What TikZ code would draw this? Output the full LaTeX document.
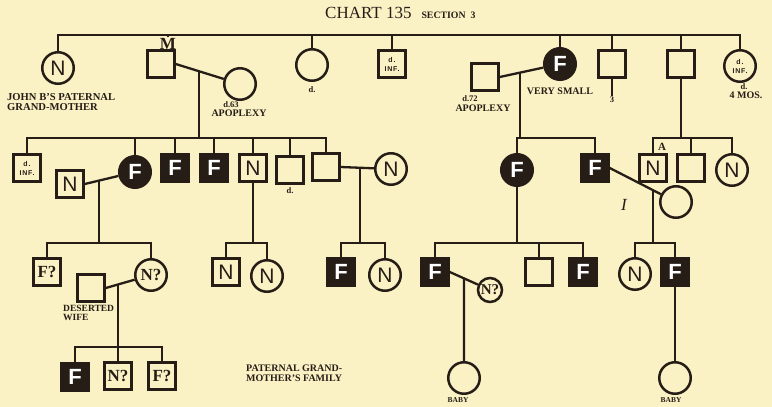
\documentclass[tikz,border=0pt]{standalone}
\usepackage{fontspec}
\setmainfont{Liberation Serif}
\newfontfamily\sansf{Liberation Sans}
\newfontfamily\tinyf[LetterSpace=12]{Liberation Sans}
\definecolor{bg}{RGB}{250,241,197}
\definecolor{ink}{RGB}{38,30,22}
\tikzset{
  ln/.style={draw=ink, line width=2.3pt},
  sq/.style={draw=ink, line width=2.5pt, rectangle, minimum size=27pt, inner sep=0pt, fill=bg, text=ink},
  ci/.style={draw=ink, line width=2.5pt, circle, minimum size=31.5pt, inner sep=0pt, fill=bg, text=ink},
  blk/.style={fill=ink, text=white},
  letN/.style={font=\sansf\fontsize{21}{21}\selectfont},
  letF/.style={font=\sansf\bfseries\fontsize{22}{22}\selectfont},
  letq/.style={font=\bfseries\fontsize{17}{17}\selectfont},
  dinf/.style={font=\tinyf\bfseries\fontsize{7}{9}\selectfont, align=center},
  lab/.style={font=\bfseries\fontsize{10}{10}\selectfont, text=ink, inner sep=0pt},
  smlab/.style={font=\bfseries\fontsize{8.5}{8.5}\selectfont, text=ink, inner sep=0pt},
}
\begin{document}
\begin{tikzpicture}[x=1pt, y=-1pt]
\useasboundingbox (0,0) rectangle (772,407);
\fill[bg] (0,0) rectangle (772,407);

% title
\node[anchor=base west, inner sep=0pt, text=ink] (title) at (325,18)
  {\fontsize{17}{17}\selectfont CHART 135\hspace{10pt}{\bfseries\fontsize{9.8}{9.8}\selectfont SECTION\hspace{5pt}3}};

% level coordinates
\coordinate (tl) at (58,35);
\coordinate (tr) at (740,35);
\coordinate (s1l) at (0,138);
\coordinate (r3) at (0,243);
\coordinate (r4) at (0,347);

% generation I
\node[ci,letN] (g1) at (58,68) {N};
\node[sq] (g2) at (161,64) {};
\node[ci] (g2w) at (240,84) {};
\node[ci] (g3) at (312,65) {};
\node[sq,dinf] (g4) at (392,64) {d.\\INF.};
\node[sq] (g5h) at (485,77) {};
\node[ci,blk,letF] (g5) at (560,64) {F};
\node[sq] (g6) at (612,64) {};
\node[sq] (g7) at (681,64) {};
\node[ci,dinf] (g8) at (740,66) {d.\\INF.};
\node[font=\bfseries\fontsize{17}{17}\selectfont, text=ink, fill=bg, inner sep=0.3pt] (Mlab) at (168,43.5) {M};

\draw[ln] (g1.north) -- (tl) -- (tr) -- (g8.north);
\draw[ln] (Mlab.north) -- (Mlab.north |- tl);
\foreach \n in {g3,g4,g5,g6,g7} \draw[ln] (\n.north) -- (\n.north |- tl);

% generation II left
\node[sq,dinf] (a1) at (27,168) {d.\\INF.};
\node[sq,letN] (a2) at (70,184) {N};
\node[ci,blk,letF] (a3) at (135,172) {F};
\node[sq,blk,letF] (a4) at (175,168) {F};
\node[sq,blk,letF] (a5) at (214,168) {F};
\node[sq,letN] (a6) at (253,168) {N};
\node[sq] (a7) at (290,170) {};
\node[sq] (a8) at (326,167) {};
\node[ci,letN] (a8w) at (391,169) {N};

\draw[ln] (g2.east) -- (g2w);
\coordinate (m1) at (intersection of g2.east--g2w.center and 199,0--199,400);
\draw[ln] (m1) -- (m1 |- s1l);
\draw[ln] (a1.north) -- (a1.north |- s1l) -- (a8.north |- s1l) -- (a8.north);
\foreach \n in {a3,a4,a5,a6,a7} \draw[ln] (\n.north) -- (\n.north |- s1l);

% generation III left
\node[sq,letq] (b1) at (47,272) {F?};
\node[ci,letq] (b2) at (151,275) {N?};
\node[sq] (b2h) at (91,288) {};
\node[sq,letN] (b3) at (226,272) {N};
\node[ci,letN] (b4) at (267,276) {N};
\node[sq,blk,letF] (b5) at (341,272) {F};
\node[ci,letN] (b6) at (385,275) {N};

\draw[ln] (a2.east) -- (a3);
\coordinate (m2) at (intersection of a2.east--a3.center and 99,0--99,400);
\draw[ln] (m2) -- (m2 |- r3);
\draw[ln] (b1.north) -- (b1.north |- r3) -- (b2.north |- r3) -- (b2.north);

\draw[ln] (a6.south) -- (a6.south |- r3);
\draw[ln] (b3.north) -- (b3.north |- r3) -- (b4.north |- r3) -- (b4.north);

\draw[ln] (a8.east) -- (a8w);
\coordinate (m4) at (intersection of a8.east--a8w.center and 360,0--360,400);
\draw[ln] (m4) -- (m4 |- r3);
\draw[ln] (b5.north) -- (b5.north |- r3) -- (b6.north |- r3) -- (b6.north);

% generation IV left
\node[sq,blk,letF] (c1) at (75,377) {F};
\node[sq,letq] (c2) at (118,376) {N?};
\node[sq,letq] (c3) at (162,376) {F?};
\draw[ln] (b2h.east) -- (b2);
\coordinate (m3) at (intersection of b2h.east--b2.center and 118,0--118,400);
\draw[ln] (m3) -- (m3 |- r4);
\draw[ln] (c1.north) -- (c1.north |- r4) -- (c3.north |- r4) -- (c3.north);
\draw[ln] (c2.north) -- (c2.north |- r4);

% right side, generation II
\node[ci,blk,letF] (d1) at (517,170) {F};
\node[sq,blk,letF] (d2) at (595,168) {F};
\node[ci] (d2w) at (676,202) {};
\node[sq,letN] (e1) at (653,168) {N};
\node[sq] (e2) at (691,168) {};
\node[ci,letN] (e3) at (732,170) {N};

\draw[ln] (g5h.east) -- (g5);
\coordinate (m5) at (intersection of g5h.east--g5.center and 520,0--520,400);
\draw[ln] (m5) -- (m5 |- s1l);
\draw[ln] (d1.north) -- (d1.north |- s1l) -- (d2.north |- s1l) -- (d2.north);

\draw[ln] (g6.south) -- ++(0,17) coordinate (g6end);
\draw[ln] (g7.south) -- (g7.south |- s1l);
\draw[ln] (e1.north) -- (e1.north |- s1l) -- (e3.north |- s1l) -- (e3.north);
\draw[ln] (e2.north) -- (e2.north |- s1l);
\node[font=\bfseries\fontsize{11}{11}\selectfont, text=ink, inner sep=0pt] (Alab) at (662,147) {A};

% right side, generation III
\node[sq,blk,letF] (f1) at (435,272) {F};
\node[sq] (f2) at (539,272) {};
\node[sq,blk,letF] (f3) at (583,272) {F};
\node[ci,font=\bfseries\fontsize{15}{15}\selectfont, minimum size=24pt] (f1w) at (490,290) {N?};
\node[ci,letN] (h1) at (635,274) {N};
\node[sq,blk,letF] (h2) at (675,272) {F};

\draw[ln] (d1.south) -- (d1.south |- r3);
\draw[ln] (f1.north) -- (f1.north |- r3) -- (f3.north |- r3) -- (f3.north);
\draw[ln] (f2.north) -- (f2.north |- r3);

\draw[ln] (d2.east) -- (d2w);
\coordinate (m6) at (intersection of d2.east--d2w.center and 653,0--653,400);
\draw[ln] (m6) -- (m6 |- r3);
\draw[ln] (h1.north) -- (h1.north |- r3) -- (h2.north |- r3) -- (h2.north);

% babies
\node[ci] (bb1) at (464,378) {};
\node[ci] (bb2) at (675,378) {};
\draw[ln] (f1.east) -- (f1w);
\coordinate (m7) at (intersection of f1.east--f1w.center and 464,0--464,400);
\draw[ln] (m7) -- (bb1.north);
\draw[ln] (h2.south) -- (bb2.north);

% labels
\node[lab, anchor=west, font=\bfseries\fontsize{10.6}{10.6}\selectfont] (l1) at (7,97) {JOHN B'S PATERNAL};
\node[lab, anchor=west, font=\bfseries\fontsize{10.6}{10.6}\selectfont] (l2) at (7,107) {GRAND-MOTHER};
\node[smlab] (l3) at (231,104.5) {d.63};
\node[lab] (l4) at (239,113) {APOPLEXY};
\node[smlab] (l5) at (312,90) {d.};
\node[smlab] (l6) at (470,99) {d.72};
\node[lab] (l7) at (483,108) {APOPLEXY};
\node[lab] (l8) at (560,91) {VERY SMALL};
\node[smlab] (l9) at (g6end |- 0,100) {3};
\node[smlab] (l10) at (744,87) {d.};
\node[lab] (l11) at (746,95) {4 MOS.};
\node[smlab] (l12) at (290,191) {d.};
\node[lab, anchor=west, font=\bfseries\fontsize{9.5}{9.5}\selectfont] (l13) at (63,308) {DESERTED};
\node[lab, anchor=west, font=\bfseries\fontsize{9.5}{9.5}\selectfont] (l14) at (63,317) {WIFE};
\node[lab, anchor=west] (l15) at (246,368) {PATERNAL GRAND-};
\node[lab, anchor=west] (l16) at (246,378) {MOTHER'S FAMILY};
\node[smlab, font=\bfseries\fontsize{7.5}{7.5}\selectfont] (l17) at (458,400) {BABY};
\node[smlab, font=\bfseries\fontsize{7.5}{7.5}\selectfont] (l18) at (671,400) {BABY};
\node[text=ink, font=\itshape\fontsize{17}{17}\selectfont, inner sep=0pt] (l19) at (624,205) {I};
\end{tikzpicture}
\end{document}
